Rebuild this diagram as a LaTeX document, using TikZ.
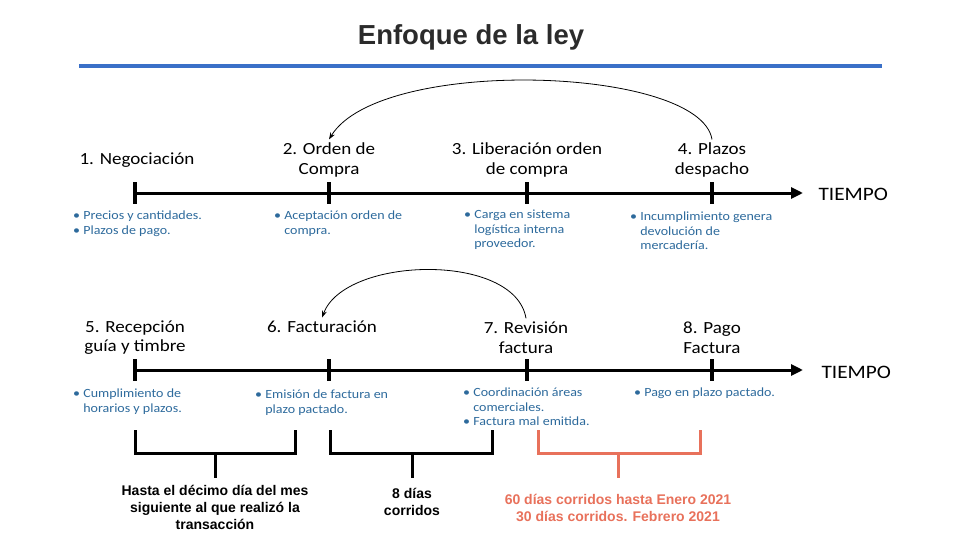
\documentclass[tikz,border=0pt]{standalone}
\usepackage{fontspec}
\setmainfont{Carlito}[FakeStretch=1.12]
\newfontfamily\arialfont{Liberation Sans}
\usetikzlibrary{arrows.meta}

\definecolor{titlegray}{HTML}{2B2B2B}
\definecolor{rulebl}{HTML}{3A70C8}
\definecolor{bulletbl}{HTML}{2D6A9C}
\definecolor{salmon}{HTML}{E8715B}

\newcommand{\bl}{\textbullet\ }
\newcommand{\ph}{\phantom{\textbullet\ }}

\begin{document}
\begin{tikzpicture}[x=1pt, y=-1pt,
  axis/.style={line width=3pt, -{Triangle[length=12pt,width=11pt]}},
  tickmk/.style={fill=black, inner sep=0pt, minimum width=3.5pt, minimum height=22pt},
  stagelbl/.style={align=center, font=\fontsize{17}{19.5}\selectfont},
  tiempo/.style={anchor=west, font=\fontsize{19}{22}\selectfont},
  bullet/.style={anchor=north west, align=left, inner sep=0pt, text=bulletbl,
    font=\fontsize{12.5}{14.5}\selectfont},
  loopback/.style={line width=0.8pt, -{Stealth[length=7pt,width=5pt]}},
  brk/.style={line width=3pt},
  brknote/.style={align=center, font=\arialfont\bfseries\fontsize{14}{17}\selectfont}]

  %% ════ Título ════
  \node[font=\arialfont\bfseries\fontsize{27.5}{32}\selectfont, text=titlegray] (title) at (471,37) {Enfoque de la ley};
  \draw[rulebl, line width=4pt] (79,66) -- (882,66);

  %% ════ Línea de tiempo 1 ════
  \node[tickmk] (k1) at (135,193) {};
  \node[tickmk] (k2) at (329,193) {};
  \node[tickmk] (k3) at (527,193) {};
  \node[tickmk] (k4) at (712,193) {};
  \coordinate (e1) at (803,193);
  \draw[axis] (k1.center) -- (e1);
  \node[tiempo] (tm1) at (815,194) {TIEMPO};

  \node[stagelbl] (s1) at (137,160) {1. Negociación};
  \node[stagelbl] (s2) at (329,160) {2. Orden de\\Compra};
  \node[stagelbl] (s3) at (527,160) {3. Liberación orden\\de compra};
  \node[stagelbl] (s4) at (712,160) {4. Plazos\\despacho};

  \node[bullet] (p1) at (73,211) {\bl Precios y cantidades.\\\bl Plazos de pago.};
  \node[bullet] (p2) at (274,211) {\bl Aceptación orden de\\\ph compra.};
  \node[bullet] (p3) at (464,210) {\bl Carga en sistema\\\ph logística interna\\\ph proveedor.};
  \node[bullet] (p4) at (630,212) {\bl Incumplimiento genera\\\ph devolución de\\\ph mercadería.};

  % flecha de retorno 4 -> 2
  \draw[loopback] (s4.north) .. controls (700,66) and (380,56) .. (s2.north);

  %% ════ Línea de tiempo 2 ════
  \node[tickmk] (k5) at (135,370) {};
  \node[tickmk] (k6) at (329,370) {};
  \node[tickmk] (k7) at (527,370) {};
  \node[tickmk] (k8) at (712,370) {};
  \coordinate (e2) at (803,370);
  \draw[axis] (k5.center) -- (e2);
  \node[tiempo] (tm2) at (818,372) {TIEMPO};

  \node[stagelbl] (s5) at (135,337.5) {5. Recepción\\guía y timbre};
  \node[stagelbl] (s6) at (322,327) {6. Facturación};
  \node[stagelbl] (s7) at (526,337.5) {7. Revisión\\factura};
  \node[stagelbl] (s8) at (712,338) {8. Pago\\Factura};

  \node[bullet] (p5) at (73,389) {\bl Cumplimiento de\\\ph horarios y plazos.};
  \node[bullet] (p6) at (255,390) {\bl Emisión de factura en\\\ph plazo pactado.};
  \node[bullet] (p7) at (463,388) {\bl Coordinación áreas\\\ph comerciales.\\\bl Factura mal emitida.};
  \node[bullet] (p8) at (634,388) {\bl Pago en plazo pactado.};

  % flecha de retorno 7 -> 6
  \draw[loopback] (s7.north) .. controls (515,252) and (345,256) .. (s6.north);

  %% ════ Llaves inferiores ════
  \draw[brk] (135,430) |- (295,453) -- (295,430);
  \draw[brk] (330,430) |- (492,453) -- (492,430);
  \draw[brk, salmon] (538,430) |- (700,453) -- (700,430);

  \node[brknote] (n1) at (215,507) {Hasta el décimo día del mes\\siguiente al que realizó la\\transacción};
  \node[brknote] (n2) at (412,501.5) {8 días\\corridos};
  \node[brknote, text=salmon] (n3) at (618,508) {60 días corridos hasta Enero 2021\\30 días corridos. Febrero 2021};

  \draw[brk] (215,453) -- (215,478);
  \draw[brk] (412,453) -- (412,478);
  \draw[brk, salmon] (618,453) -- (618,478);

  % lienzo fijo
  \pgfresetboundingbox
  \path[use as bounding box] (0,0) rectangle (960,540);
\end{tikzpicture}
\end{document}
